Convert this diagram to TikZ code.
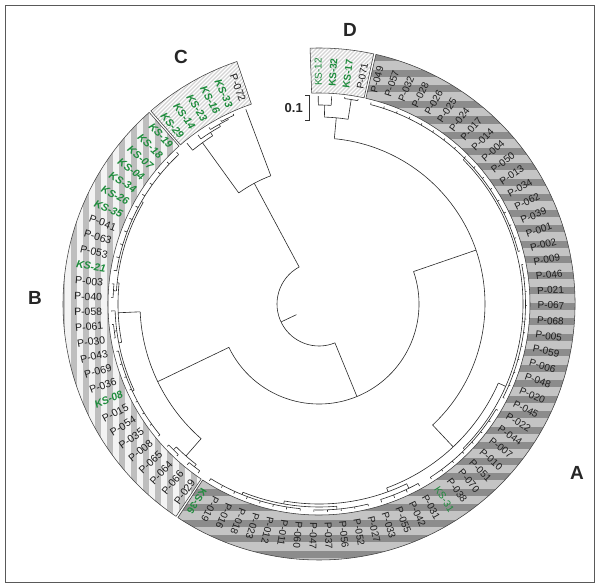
\documentclass[tikz,border=0pt]{standalone}
\usepackage{fontspec}
\setmainfont{Liberation Sans}
\definecolor{ksgreen}{RGB}{30,140,60}
\definecolor{adark}{RGB}{140,140,140}
\definecolor{alight}{RGB}{196,196,196}
\definecolor{blight}{RGB}{243,243,243}
\definecolor{bgray}{RGB}{190,190,190}
\definecolor{cbase}{RGB}{212,212,212}
\definecolor{treecol}{RGB}{40,40,40}
\definecolor{labcol}{RGB}{30,30,30}
\newcommand{\ksr}[1]{\textcolor{ksgreen}{#1}}
\newcommand{\ksb}[1]{\textcolor{ksgreen}{\bfseries #1}}
\newcommand{\ksbi}[1]{\textcolor{ksgreen}{\bfseries\itshape #1}}
\newcommand{\ringsector}[3]{%
  \begin{scope}
    \clip (#1:211pt) arc[start angle=#1,end angle=#2,radius=211pt] -- (#2:256pt) arc[start angle=#2,end angle=#1,radius=256pt] -- cycle;
    #3
  \end{scope}
  \draw[ringline] (#1:211pt) arc[start angle=#1,end angle=#2,radius=211pt] -- (#2:256pt) arc[start angle=#2,end angle=#1,radius=256pt] -- cycle;
}
\newcommand{\trad}[3]{\draw[tree] (#1:#2pt) -- (#1:#3pt);}
\newcommand{\tarc}[3]{\draw[tree] (#2:#1pt) arc[start angle=#2,end angle=#3,radius=#1pt];}
\newcommand{\leafA}[3]{\foreach \k in {#1,...,#2}{\pgfmathsetmacro\la{77.4-(\k-0.5)*3.794}\draw[tree] (\la:#3pt) -- (\la:208pt);}}
\newcommand{\leafB}[3]{\foreach \k in {#1,...,#2}{\pgfmathsetmacro\la{236.3-(\k-0.5)*3.75}\draw[tree] (\la:#3pt) -- (\la:208pt);}}
\newcommand{\diagstripes}{\fill[cbase] (-300,-300) rectangle (300,300);
  \foreach \cc in {-440,-436,...,-120} {\draw[white, line width=1.3pt] (\cc-300,-300) -- (\cc+300,300);}}
\begin{document}
\begin{tikzpicture}[x=1pt,y=1pt,
  tree/.style={draw=treecol, line width=0.6pt},
  ringline/.style={draw=black!75, line width=0.55pt},
  lab/.style={font=\fontsize{10}{11}\selectfont, text=labcol, inner sep=0pt},
  labB/.style={font=\fontsize{10.5}{11}\selectfont, text=labcol, inner sep=0pt},
  biglab/.style={font=\fontsize{19}{20}\selectfont\bfseries, text=black!85, inner sep=0pt}]
\useasboundingbox (-319,-280) rectangle (277,304);
\draw[black!65, line width=1pt] (-313.5,298.5) rectangle (275,-278);

% ---- ring sectors ----
\ringsector{-123.45}{77.15}{%
  \fill[adark] (-300,-300) rectangle (300,300);
  \foreach \yy in {-262,-246.5,...,262} {\fill[alight] (-300,\yy) rectangle (300,\yy+8.5);}}
\ringsector{131.55}{236.05}{%
  \fill[blight] (-300,-300) rectangle (0,300);
  \foreach \xx in {-260,-248,...,-90} {\fill[bgray] (\xx,-300) rectangle (\xx+6,300);}}
\ringsector{108.7}{131.05}{\diagstripes}
\ringsector{77.65}{92.0}{\diagstripes}

% ---- labels ----
\foreach \t [count=\k] in {P-049,P-057,P-032,P-028,P-026,P-025,P-024,P-017,P-014,P-004,P-050,P-013,P-034,P-062,P-039,P-001,P-002,P-009,P-046,P-021,P-067,P-068,P-005,P-059,P-006,P-048,P-020,P-045,P-022,P-044,P-007,P-010,P-051,P-070,P-038,\ksr{KS-31},P-031,P-042,P-055,P-033,P-027,P-052,P-056,P-037,P-047,P-060,P-011,P-012,P-023,P-018,P-016,P-019,\ksb{KS-36}}
  {\pgfmathsetmacro\la{77.4-(\k-0.5)*3.794}\node[lab,rotate=\la] at (\la:232pt) {\t};}
\foreach \t [count=\k] in {P-029,P-066,P-064,P-065,P-008,P-035,P-054,P-015,\ksbi{KS-08},P-036,P-069,P-043,P-030,P-061,P-058,P-040,P-003,\ksbi{KS-21},P-053,P-063,P-041,\ksbi{KS-35},\ksbi{KS-26},\ksbi{KS-34},\ksbi{KS-04},\ksbi{KS-07},\ksbi{KS-18},\ksbi{KS-19}}
  {\pgfmathsetmacro\la{236.3-(\k-0.5)*3.75}\pgfmathsetmacro\lr{\la-180}\node[labB,rotate=\lr] at (\la:231pt) {\t};}
\foreach \t [count=\k] in {\ksbi{KS-29},\ksbi{KS-14},\ksbi{KS-23},\ksbi{KS-16},\ksbi{KS-33},P-072}
  {\pgfmathsetmacro\la{131.3-(\k-0.5)*3.77}\pgfmathsetmacro\lr{\la-180}\node[labB,rotate=\lr] at (\la:231pt) {\t};}
\foreach \t [count=\k] in {\ksr{KS-12},\ksb{KS-32},\ksb{KS-17},P-071}
  {\pgfmathsetmacro\la{92-(\k-0.5)*3.65}\node[lab,rotate=\la] at (\la:232pt) {\t};}

% ---- tree ----
\trad{205.3}{25}{42}
\tarc{42}{118.2}{292.3}
% C clade
\trad{118.2}{42}{137}
\tarc{137}{110.6}{125.85}
\trad{110.6}{137}{208}
\trad{125.85}{137}{199}
\tarc{199}{122.3}{129.4}
\trad{129.4}{199}{208}
\trad{122.3}{199}{203}
\tarc{203}{119.05}{125.6}
\trad{125.6}{203}{208}
\trad{119.05}{203}{205.5}
\tarc{205.5}{116.2}{121.9}
\trad{121.9}{205.5}{208}
\trad{116.2}{205.5}{207}
\tarc{207}{114.3}{118.1}
\trad{114.3}{207}{208.5}
\trad{118.1}{207}{208.5}
% X
\trad{292.3}{42}{100}
\tarc{100}{205.7}{378.95}
% B clade
\trad{205.7}{100}{179}
\tarc{179}{182.5}{228.8}
\trad{228.8}{179}{202}
\tarc{202}{225.05}{232.55}
\trad{232.55}{202}{205}
\tarc{205}{230.7}{234.4}
\leafB{1}{2}{205}
\trad{225.05}{202}{206}
\tarc{206}{223.2}{226.9}
\leafB{3}{4}{206}
\trad{182.5}{179}{201}
\tarc{201}{174}{191}
\trad{174}{201}{203}
\tarc{203}{150}{176.3}
\trad{176.3}{203}{206}
\tarc{206}{174.4}{178.2}
\leafB{16}{17}{206}
\trad{150}{203}{205}
\tarc{205}{133.2}{170.7}
\leafB{18}{28}{205}
\trad{191}{201}{204}
\tarc{204}{181.9}{205}
\leafB{15}{15}{204}
\trad{187.55}{204}{206.5}
\tarc{206.5}{185.7}{189.4}
\leafB{13}{14}{206.5}
\trad{205}{204}{206}
\tarc{206}{193.2}{219.4}
\leafB{5}{12}{206}
% Y
\trad{18.95}{100}{166}
\tarc{166}{-46.8}{84.7}
% D clade
\trad{84.7}{166}{187}
\tarc{187}{81.05}{88.35}
\trad{88.35}{187}{199}
\tarc{199}{86.5}{90.2}
\trad{90.2}{199}{208}
\trad{86.5}{199}{208}
\trad{81.05}{187}{207}
\tarc{207}{79.2}{82.9}
\trad{79.2}{207}{208.5}
\trad{82.9}{207}{208.5}
% A clade
\trad{-46.8}{166}{196}
\tarc{196}{-69.8}{-23.8}
\trad{-23.8}{196}{204}
\tarc{204}{-45}{45}
\trad{45}{204}{206}
\tarc{206}{14.8}{75.5}
\leafA{1}{17}{206}
\trad{-5}{204}{206.5}
\tarc{206.5}{-27.0}{11.0}
\leafA{18}{28}{206.5}
\trad{-45}{204}{206}
\tarc{206}{-57.3}{-30.8}
\leafA{29}{36}{206}
\trad{-69.8}{196}{200}
\tarc{200}{-100}{-64}
\trad{-64}{200}{205}
\tarc{205}{-72.5}{-61.1}
\leafA{37}{40}{205}
\trad{-100}{200}{203}
\tarc{203}{-112}{-85}
\trad{-85}{203}{206}
\tarc{206}{-91.5}{-76.3}
\leafA{41}{45}{206}
\trad{-112}{203}{205.5}
\tarc{205.5}{-121.8}{-95.3}
\leafA{46}{53}{205.5}

% ---- scale bar ----
\draw[black!80, line width=0.8pt] (-14,209) -- (-10,209) -- (-10,184) -- (-14,184);
\node[font=\fontsize{13}{14}\selectfont\bfseries, text=black!85, anchor=east, inner sep=0pt] (scale) at (-16,196) {0.1};

% ---- group letters ----
\node[biglab] (gA) at (258,-169) {A};
\node[biglab] (gB) at (-284,6) {B};
\node[biglab] (gC) at (-138,247) {C};
\node[biglab] (gD) at (31,274) {D};
\end{tikzpicture}
\end{document}
